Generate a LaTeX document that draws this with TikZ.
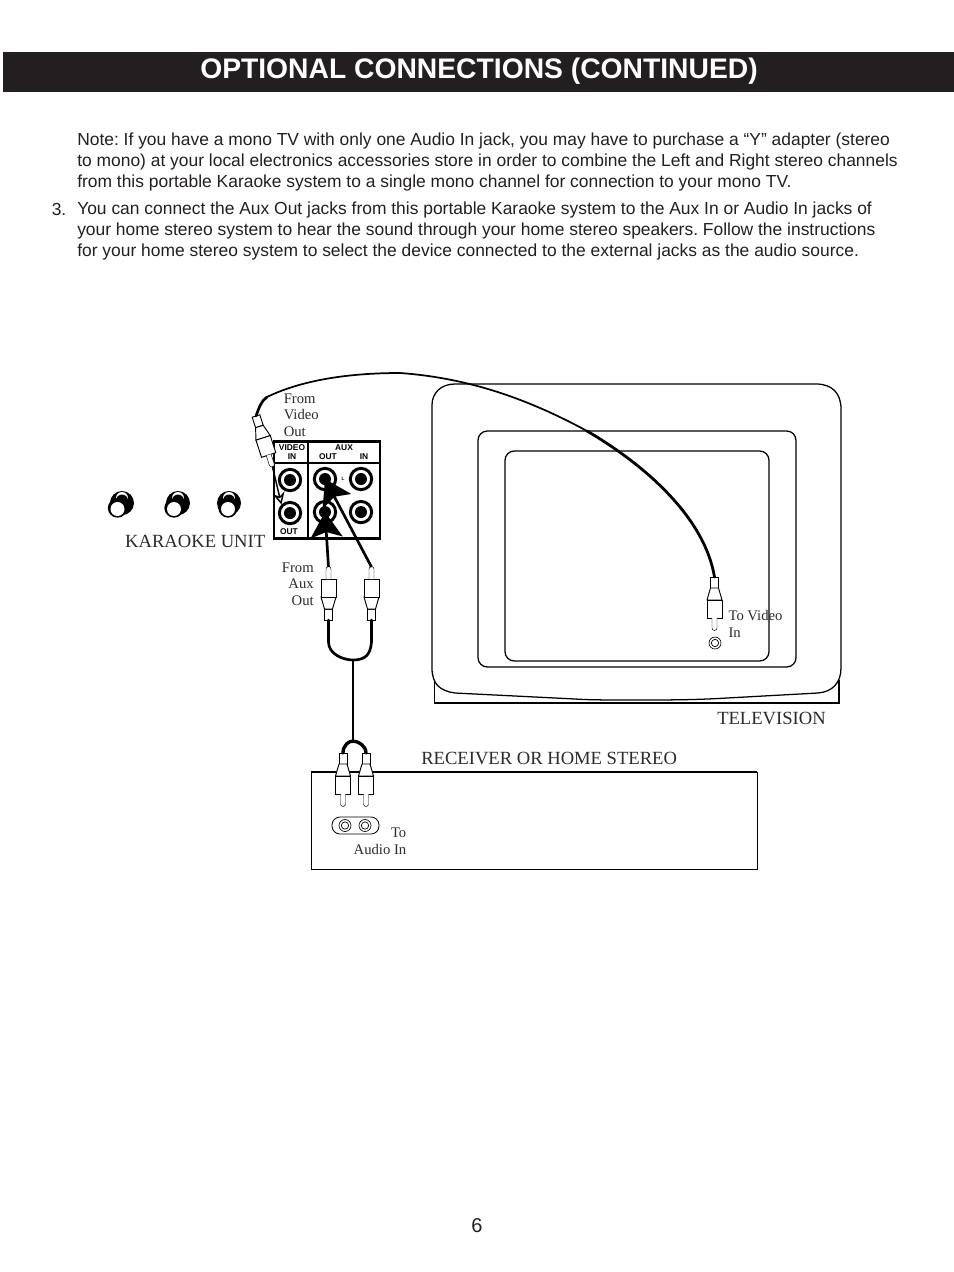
\documentclass[tikz,border=0pt]{standalone}
\usepackage{fontspec}
\setmainfont{Liberation Serif}
\newfontfamily\bodyfont{Liberation Sans}
\usetikzlibrary{shapes,arrows.meta,positioning,calc}
\definecolor{titleBlack}{HTML}{231F20}
\definecolor{inkGrey}{HTML}{2B2B2B}

\begin{document}
\begin{tikzpicture}[
            x=0.75pt,
            y=-0.75pt,
            titlebar/.style={
                    rectangle,
                    fill=titleBlack,
                    text=white,
                    minimum width=951*0.75pt,
                    minimum height=40*0.75pt,
                    inner sep=0pt
                },
            para/.style={
                    anchor=north west,
                    inner sep=0pt,
                    align=left,
                    text=titleBlack,
                    font=\bodyfont\frenchspacing\fontsize{13.07}{15.7}\selectfont
                },
            caption/.style={
                    inner sep=0pt,
                    text=inkGrey,
                    font=\fontsize{13.95}{16}\selectfont
                },
            small/.style={
                    inner sep=0pt,
                    align=left,
                    text=inkGrey,
                    font=\fontsize{11}{12.4}\selectfont
                },
            panel/.style={
                    inner sep=0pt,
                    font=\bodyfont\bfseries\fontsize{6.3}{7}\selectfont
                },
            jack/.style={
                    circle,
                    draw=black,
                    line width=2.2pt,
                    fill=white,
                    minimum size=16pt,
                    inner sep=0pt
                },
            jackdot/.style={
                    circle,
                    fill=black,
                    minimum size=9pt,
                    inner sep=0pt
                },
            socket/.style={
                    circle,
                    draw=black,
                    line width=0.5pt,
                    fill=white,
                    minimum size=9pt,
                    inner sep=0pt
                },
            socketin/.style={
                    circle,
                    draw=black,
                    line width=0.5pt,
                    minimum size=5.5pt,
                    inner sep=0pt
                },
            screen/.style={
                    rectangle,
                    rounded corners=7pt,
                    draw=black,
                    line width=0.95pt,
                    inner sep=0pt
                },
            disc/.style={
                    circle,
                    inner sep=0pt
                },
            cable/.style={
                    line width=2pt,
                    line cap=round
                },
            bigarrow/.style={
                    -{Stealth[length=19pt,width=24pt,inset=4pt]},
                    line width=2pt
                },
            plug/.pic={
                    \coordinate (-neck) at (0,0);
                    \coordinate (-tip) at (0,53);
                    \draw[fill=white,line width=0.7pt] (-4,0) rectangle (4,11);
                    \draw[fill=white,line width=0.7pt] (-4,11) -- (4,11) -- (7.5,23) -- (-7.5,23) -- cycle;
                    \draw[fill=white,line width=0.7pt] (-7.5,23) rectangle (7.5,41);
                    \draw[fill=white,line width=0.35pt] (-2.5,41) -- (-2.5,51) arc[start angle=180,end angle=0,radius=2.5] -- (2.5,41);
                }
        ]
        \useasboundingbox (0,0) rectangle (954,1272);

        % Header
        \node[titlebar] (title) at (478.5,72) {};
        \node[font=\bodyfont\bfseries\fontsize{21.2}{24}\selectfont, text=white, inner sep=0pt] (titleText) at (479,71) {OPTIONAL CONNECTIONS (CONTINUED)};

        % Text
        \node[para] (note) at (77,132.5) {Note: If you have a mono TV with only one Audio In jack, you may have to purchase a “Y” adapter (stereo\\
            to mono) at your local electronics accessories store in order to combine the Left and Right stereo channels\\
            from this portable Karaoke system to a single mono channel for connection to your mono TV.};
        \node[para] (stepNum) at (51.5,203) {3.};
        \node[para] (stepText) at (77,201.5) {You can connect the Aux Out jacks from this portable Karaoke system to the Aux In or Audio In jacks of\\
            your home stereo system to hear the sound through your home stereo speakers. Follow the instructions\\
            for your home stereo system to select the device connected to the external jacks as the audio source.};
        \node[para, anchor=center, font=\bodyfont\fontsize{15}{18}\selectfont] (pageNum) at (477,1226) {6};

        % Television
        \draw[line width=0.95pt] (434.5,680) -- (434.5,703) -- (839,703) -- (839,680);
        \draw[line width=0.95pt, fill=white] (455,384) -- (816,384) .. controls (832,384) and (841,393) .. (841,409)
            -- (841,668) .. controls (841,683) and (832,692) .. (818,693)
            -- (727,698) .. controls (695,700) and (665,700) .. (636,700) .. controls (610,700) and (590,700) .. (575,699)
            -- (455,693) .. controls (440,691) and (432,684) .. (432,668) -- (432,405) .. controls (432,393) and (441,384) .. (455,384) -- cycle;
        \draw[line width=1.4pt, black!65] (458,384) -- (814,384);
        \node[screen, minimum width=318*0.75pt, minimum height=236*0.75pt] (tvFrame) at (637,549) {};
        \node[screen, minimum width=264*0.75pt, minimum height=210*0.75pt] (tvScreen) at (637,556) {};
        \node[caption] (tvLabel) at (771.5,718) {TELEVISION};
        \node[socket] (videoIn) at (715,643) {};
        \node[socketin] at (videoIn) {};
        \node[small] (toVideo) at (755.5,624) {To Video\\In};

        % Receiver
        \node[rectangle, draw, line width=0.6pt, minimum width=446*0.75pt, minimum height=97*0.75pt, inner sep=0pt] (receiver) at (534,820.5) {};
        \draw[line width=1.2pt] (receiver.north west) -- (receiver.north east);
        \node[caption, anchor=west] (receiverLabel) at (421,758) {RECEIVER OR HOME STEREO};
        \node[rectangle, rounded corners=6pt, draw, line width=0.6pt, minimum width=47*0.75pt, minimum height=17*0.75pt, inner sep=0pt] (audioBay) at (355.5,825.5) {};
        \node[socket] (audioL) at (345,825.5) {};
        \node[socketin] at (audioL) {};
        \node[socket, right=5.5pt of audioL] (audioR) {};
        \node[socketin] at (audioR) {};
        \node[small, align=right] (toAudio) at (380,841.5) {To\\Audio In};

        % Karaoke unit
        \foreach \name/\px/\lowx in {knobA/122/117.5,knobB/178/174,knobC/229/228} {
            \node[disc, fill=black, minimum size=18pt] (\name) at (\px,503) {};
            \node[disc, fill=white, minimum size=9pt] at (\px,498) {};
            \node[disc, fill=black, minimum size=9pt] at (\px,500.5) {};
            \node[disc, fill=black, minimum size=14.5pt] (\name Low) at (\lowx,508) {};
            \node[disc, fill=white, minimum size=10.5pt] at (\lowx,509) {};
        }
        \node[caption, anchor=east] (karaokeLabel) at (265.5,541) {KARAOKE UNIT};

        \node[rectangle, draw, line width=1.6pt, minimum width=106*0.75pt, minimum height=97*0.75pt, inner sep=0pt] (jackPanel) at (327,490) {};
        \draw[line width=1.6pt] (308,441) -- (308,538);
        \draw[line width=1.4pt] (273,463) -- (380,463);
        \node[panel, align=center] (videoText) at (292,452) {VIDEO\\IN};
        \node[panel] (auxText) at (344,447.5) {AUX};
        \node[panel] (auxOutText) at (328,457) {OUT};
        \node[panel] (auxInText) at (364,457) {IN};
        \node[panel] (videoOutText) at (289,532) {OUT};

        \node[jack] (videoInJack) at (290,480) {};
        \node[jack, below=6.6pt of videoInJack] (videoOutJack) {};
        \node[jack] (auxOutL) at (325,479) {};
        \node[jack, below=6.6pt of auxOutL] (auxOutR) {};
        \node[jack] (auxInL) at (361,479) {};
        \node[jack, below=6.6pt of auxInL] (auxInR) {};
        \foreach \jackname in {videoInJack,videoOutJack,auxOutL,auxOutR,auxInL,auxInR} {
            \node[jackdot] at (\jackname) {};
        }
        \node[font=\bodyfont\bfseries\fontsize{3.5}{3.5}\selectfont, inner sep=0pt] (leftMark) at (343,479) {L};

        \node[small, anchor=west] (fromVideo) at (283.5,415) {From\\Video\\Out};
        \node[small, align=right, anchor=east] (fromAux) at (314,584) {From\\Aux\\Out};

        % Plugs
        \pic[rotate=18] (videoPlug) at (256,416) {plug};
        \pic (tvPlug) at (714.5,577) {plug};
        \pic[yscale=-1] (auxPlugL) at (328.5,620) {plug};
        \pic[yscale=-1] (auxPlugR) at (371.5,620) {plug};
        \pic (stereoPlugL) at (343,753) {plug};
        \pic (stereoPlugR) at (366,753) {plug};

        % Cables
        \coordinate (videoBend) at (267,397);
        \coordinate (videoTop) at (400,373);
        \coordinate (videoFall) at (587,431);
        \coordinate (auxJoin) at (353,660);
        \coordinate (stereoJoin) at (353,741);
        \draw[cable] (videoPlug-neck) .. controls (259,408) and (261,401) .. (videoBend);
        \draw[cable, line width=1.3pt] (videoBend) .. controls (300,381) and (345,373) .. (videoTop)
            .. controls (470,378) and (530,400) .. (videoFall);
        \draw[cable, line width=2.1pt] (videoFall) .. controls (650,468) and (705,520) .. (tvPlug-neck);
        \draw[cable] (auxPlugL-neck) -- ++(0,22) .. controls ++(0,12) and ++(-10,0) .. (auxJoin)
            .. controls ++(13,0) and ++(-1,12) .. ($(auxPlugR-neck)+(0,22)$) -- (auxPlugR-neck);
        \draw[cable] (auxJoin) -- (stereoJoin);
        \draw[cable, line width=2.5pt] (stereoPlugL-neck) .. controls ++(0,-8) and ++(-4,0) .. (stereoJoin)
            .. controls ++(4,0) and ++(0,-8) .. (stereoPlugR-neck);

        % Connections
        \draw[bigarrow] (auxPlugL-tip) -- (auxOutR.center);
        \draw[bigarrow] (auxPlugR-tip) -- (auxOutL.center);
        \draw[-{Stealth[length=9pt,width=9pt,open]}, line width=1.1pt] (videoPlug-tip) -- (videoOutJack.135);

    \end{tikzpicture}
\end{document}
